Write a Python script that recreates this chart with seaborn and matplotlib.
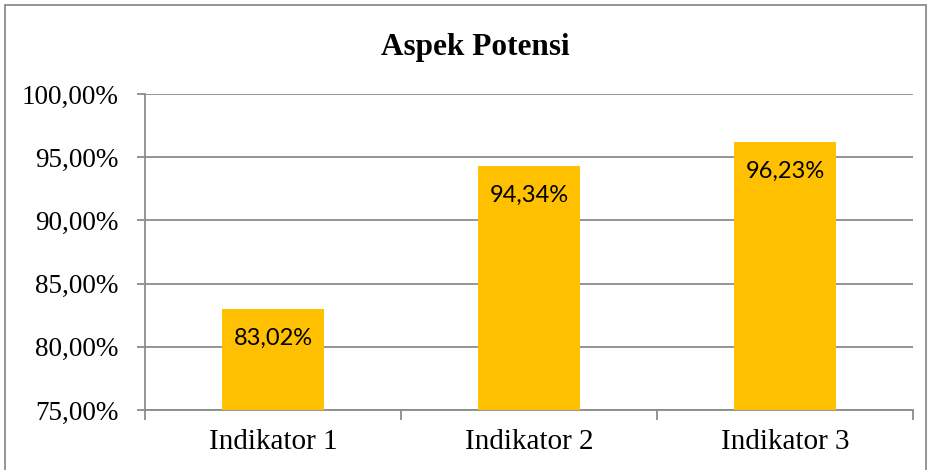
import matplotlib
matplotlib.use("Agg")
import matplotlib.pyplot as plt
import seaborn as sns
import pandas as pd
from matplotlib.patches import Rectangle
from matplotlib.ticker import FuncFormatter, FixedLocator

categories = ["Indikator 1", "Indikator 2", "Indikator 3"]
values = [83.02, 94.34, 96.23]
title = "Aspek Potensi"

sns.set_theme(style="white")
plt.rcParams['font.family'] = ['Liberation Serif', 'DejaVu Serif']

df = pd.DataFrame({"cat": categories, "val": values})

fig = plt.figure(figsize=(9.29, 4.70), dpi=100)
ax = fig.add_axes([145/929, 1-410/470, (913-145)/929, (410-94)/470])

sns.barplot(data=df, x="cat", y="val", color="#FFC000", saturation=1, width=0.4, ax=ax,
            zorder=3, linewidth=0, edgecolor="none")

grid_c = "#8C8C8C"
ax.set_ylim(75, 100)
ax.set_xlim(-0.5, 2.5)
ax.yaxis.set_major_locator(FixedLocator([75, 80, 85, 90, 95, 100]))
ax.yaxis.set_major_formatter(FuncFormatter(lambda v, p: f"{v:.2f}%".replace(".", ",")))
ax.grid(axis="y", color=grid_c, linewidth=1.3, zorder=0)
ax.set_axisbelow(True)
for s in ["top", "right"]:
    ax.spines[s].set_visible(False)
for s in ["left", "bottom"]:
    ax.spines[s].set_color(grid_c)
    ax.spines[s].set_linewidth(1.3)
ax.set_xlabel("")
ax.set_ylabel("")
ax.tick_params(axis="y", which="major", direction="out", length=6, color=grid_c, width=1.3,
               labelsize=19.5, labelcolor="black", pad=13, left=True)
ax.tick_params(axis="x", which="major", length=0, labelsize=21, labelcolor="black", pad=14)
ax.set_xticks(range(len(categories)))
ax.set_xticklabels(categories)
ax.xaxis.set_minor_locator(FixedLocator([-0.5, 0.5, 1.5, 2.5]))
ax.tick_params(axis="x", which="minor", direction="out", length=7, color=grid_c, width=1.3, bottom=True)

for i, v in enumerate(values):
    ax.text(i, v - 2.37, f"{v:.2f}%".replace(".", ","), ha="center", va="center",
            fontsize=17, family=["Lato", "DejaVu Sans"], color="black", zorder=5)

fig.text(475/929, 1-48/470, title, ha="center", va="center", fontsize=22.5,
         fontweight="bold", color="black")

fig.patches.append(Rectangle((5/929, -0.01), (926-5)/929, (470-5)/470 + 0.01,
                             transform=fig.transFigure, fill=False, edgecolor="#8C8C8C",
                             linewidth=1.3))

fig.savefig("out.png", dpi=100)
